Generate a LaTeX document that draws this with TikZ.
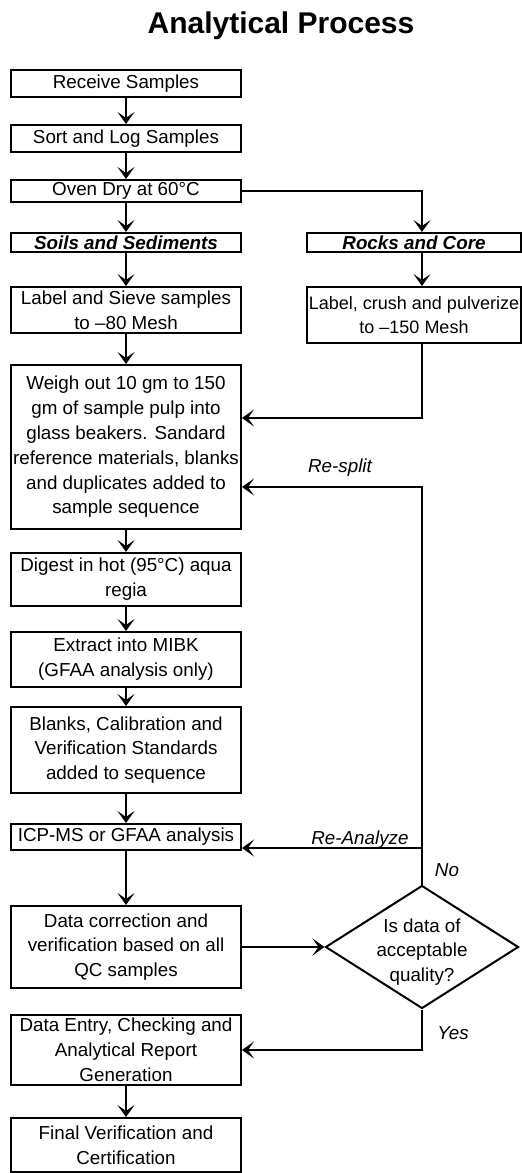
\documentclass[tikz,border=0pt]{standalone}
\usepackage{fontspec}
\setmainfont{Liberation Sans}
\usetikzlibrary{positioning,arrows.meta,shapes.geometric}

\begin{document}
\begin{tikzpicture}[x=0.5pt, y=-0.5pt, line width=0.9pt,
  font=\fontsize{9.4}{12.4}\selectfont,
  box/.style={draw, line width=1pt, minimum width=115pt, align=center, inner xsep=1pt, inner ysep=1pt},
  sidebox/.style={box, minimum width=107pt, inner xsep=0.5pt},
  arr/.style={-{Stealth[length=6pt, width=8.5pt, inset=3pt]}},
  tag/.style={font=\fontsize{9.4}{12.4}\selectfont\itshape, inner sep=0pt}]
\clip (0,0) rectangle (522,1173);
\node[font=\fontsize{15}{18}\selectfont\bfseries] (title) at (281,26) {Analytical Process};
% main column
\node[box, minimum height=13.5pt] (recv) at (126,83.5) {Receive Samples};
\node[box, minimum height=13.5pt] (sort) at (126,138.5) {Sort and Log Samples};
\node[box, minimum height=11pt] (oven) at (126,191) {Oven Dry at 60°C};
\node[box, minimum height=9.5pt, font=\fontsize{9.4}{12.4}\selectfont\bfseries\itshape] (soils) at (126,242.5) {Soils and Sediments};
\node[box, minimum height=23pt] (sieve) at (126,310) {Label and Sieve samples\\to –80 Mesh};
\node[box, minimum height=82pt] (weigh) at (126,447) {Weigh out 10 gm to 150\\gm of sample pulp into\\glass beakers. Sandard\\reference materials, blanks\\and duplicates added to\\sample sequence};
\node[box, minimum height=26.5pt] (digest) at (126,579.5) {Digest in hot (95°C) aqua\\regia};
\node[box, minimum height=27.5pt] (extract) at (126,659.5) {Extract into MIBK\\(GFAA analysis only)};
\node[box, minimum height=43pt] (blanks) at (126,750) {Blanks, Calibration and\\Verification Standards\\added to sequence};
\node[box, minimum height=13pt] (icp) at (126,837) {ICP-MS or GFAA analysis};
\node[box, minimum height=41pt] (corr) at (126,947) {Data correction and\\verification based on all\\QC samples};
\node[box, minimum height=35pt] (entry) at (126,1050) {Data Entry, Checking and\\Analytical Report\\Generation};
\node[box, minimum height=27pt] (final) at (126,1145) {Final Verification and\\Certification};
% rocks branch
\node[sidebox, minimum height=9.5pt, font=\fontsize{9.4}{12.4}\selectfont\bfseries\itshape] (rocks) at (414,242.5) {Rocks and Core};
\node[sidebox, minimum height=28pt, font=\fontsize{9}{12.4}\selectfont] (crush) at (414,315) {Label, crush and pulverize\\to –150 Mesh};
% decision
\node[draw, diamond, line width=1pt, minimum width=96.5pt, minimum height=61.5pt, inner sep=0pt] (dec) at (422,947) {};
\node[align=center, inner sep=0pt] (dectxt) at (422,952) {Is data of\\acceptable\\quality?};
\coordinate (resplit) at (422,487);
\coordinate (reana) at (422,848);

\foreach \a/\b in {recv/sort, sort/oven, oven/soils, soils/sieve, sieve/weigh, weigh/digest,
  digest/extract, extract/blanks, blanks/icp, icp/corr, entry/final}
  \draw[arr] (\a) -- (\b);
\draw[arr] (oven.east) -| ([xshift=4pt]rocks.north);
\draw[arr] ([xshift=4pt]rocks.south) -- ([xshift=4pt]crush.north);
\draw[arr] ([xshift=4pt]crush.south) |- ([yshift=14.5pt]weigh.east);
\draw[arr] (dec.north) -- (resplit) -- (weigh.east |- resplit);
\draw[arr] (reana) -- (icp.east |- reana);
\draw[arr] (corr.east) -- (dec.west);
\draw[arr] (dec.south) |- (entry.east);

\node[tag] (lsplit) at (340,468) {Re-split};
\node[tag] (lana) at (360,840) {Re-Analyze};
\node[tag] (lno) at (447,870) {No};
\node[tag] (lyes) at (453,1033) {Yes};
\end{tikzpicture}
\end{document}
